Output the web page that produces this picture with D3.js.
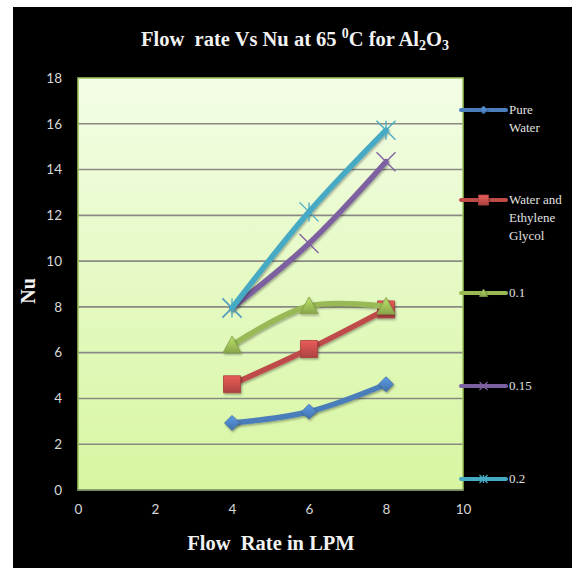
<!DOCTYPE html>
<html>
<head>
<meta charset="utf-8">
<script src="https://cdn.jsdelivr.net/npm/d3@7"></script>
<style>
  html, body { margin: 0; padding: 0; background: #fff; }
  svg { display: block; }
  text { white-space: pre; }
</style>
</head>
<body>
<svg id="chart" width="572" height="568"></svg>
<script>
// Flow rate (LPM) against Nusselt number for each fluid
const flowRates = [4, 6, 8];
const seriesNames = [["Pure", "Water"], ["Water and", "Ethylene", "Glycol"], ["0.1"], ["0.15"], ["0.2"]];
const pureWater = [2.93, 3.42, 4.62];
const waterEG = [4.62, 6.16, 7.89];
const conc010 = [6.33, 8.04, 8.02];
const conc015 = [7.95, 10.77, 14.34];
const conc020 = [7.95, 12.15, 15.72];
const xTicks = [0, 2, 4, 6, 8, 10];
const yTicks = [0, 2, 4, 6, 8, 10, 12, 14, 16, 18];
const legendY = [110, 200, 293, 386, 479];

const colors = ["#4a7ebb", "#be4b48", "#98b954", "#7d60a0", "#46aac5"];
const markers = ["diamond", "square", "triangle", "cross", "star"];
const values = [pureWater, waterEG, conc010, conc015, conc020];

const svg = d3.select("#chart");
const defs = svg.append("defs");

// background panel
svg.append("rect").attr("x", 13).attr("y", 7).attr("width", 559).attr("height", 561).attr("fill", "#000");

const plot = { left: 78, right: 463, top: 78, bottom: 490 };
const x = d3.scaleLinear().domain([0, 10]).range([plot.left, plot.right]);
const y = d3.scaleLinear().domain([0, 18]).range([plot.bottom, plot.top]);

const bg = defs.append("linearGradient").attr("id", "plotBg").attr("x1", 0).attr("y1", 0).attr("x2", 0).attr("y2", 1);
bg.append("stop").attr("offset", 0).attr("stop-color", "#f3fde6");
bg.append("stop").attr("offset", 1).attr("stop-color", "#d7f6a1");

svg.append("rect")
  .attr("x", plot.left).attr("y", plot.top)
  .attr("width", plot.right - plot.left).attr("height", plot.bottom - plot.top)
  .attr("fill", "url(#plotBg)");

// horizontal gridlines
svg.append("g").selectAll("line").data(yTicks.filter(d => d > 0 && d < 18)).join("line")
  .attr("x1", plot.left).attr("x2", plot.right)
  .attr("y1", d => y(d)).attr("y2", d => y(d))
  .attr("stroke", "#8a8a85").attr("stroke-width", 1.6);

svg.append("rect")
  .attr("x", plot.left).attr("y", plot.top)
  .attr("width", plot.right - plot.left).attr("height", plot.bottom - plot.top)
  .attr("fill", "none").attr("stroke", "#9fc65c").attr("stroke-width", 1.5);
svg.append("line").attr("x1", plot.left).attr("x2", plot.right)
  .attr("y1", plot.bottom).attr("y2", plot.bottom).attr("stroke", "#7f8a70").attr("stroke-width", 1.5);

// axes
const tickFont = "Lato, 'Open Sans', sans-serif";
const yAxis = svg.append("g").attr("transform", `translate(${plot.left},0)`)
  .call(d3.axisLeft(y).tickValues(yTicks).tickSize(0).tickPadding(16));
const xAxis = svg.append("g").attr("transform", `translate(0,${plot.bottom})`)
  .call(d3.axisBottom(x).tickValues(xTicks).tickSize(0).tickPadding(14));
[yAxis, xAxis].forEach(g => {
  g.select(".domain").remove();
  g.selectAll("text").attr("fill", "#d8d8d8").attr("font-family", tickFont).attr("font-size", 13.5);
});

// gradient fills for markers
colors.forEach((c, i) => {
  const g = defs.append("linearGradient").attr("id", "mk" + i).attr("x1", 0).attr("y1", 0).attr("x2", 0).attr("y2", 1);
  g.append("stop").attr("offset", 0).attr("stop-color", d3.color(c).brighter(0.6));
  g.append("stop").attr("offset", 1).attr("stop-color", d3.color(c).darker(0.3));
});
const shadow = defs.append("filter").attr("id", "shadow").attr("x", "-50%").attr("y", "-50%").attr("width", "200%").attr("height", "200%");
shadow.append("feDropShadow").attr("dx", 1).attr("dy", 1.5).attr("stdDeviation", 1.2).attr("flood-color", "#000").attr("flood-opacity", 0.35);

function markerPath(type, s) {
  const h = s / 2;
  switch (type) {
    case "diamond": return `M0,${-h}L${h},0L0,${h}L${-h},0Z`;
    case "square": return `M${-h},${-h}H${h}V${h}H${-h}Z`;
    case "triangle": return `M0,${-h}L${h},${h * 0.85}L${-h},${h * 0.85}Z`;
    case "cross": return `M${-h},${-h}L${h},${h}M${h},${-h}L${-h},${h}`;
    case "star": return `M${-h},${-h}L${h},${h}M${h},${-h}L${-h},${h}M0,${-h}V${h}`;
  }
}
function drawMarker(g, type, i, cx, cy, s) {
  const filled = type === "diamond" || type === "square" || type === "triangle";
  g.append("path")
    .attr("transform", `translate(${cx},${cy})`)
    .attr("d", markerPath(type, s))
    .attr("fill", filled ? `url(#mk${i})` : "none")
    .attr("stroke", filled ? d3.color(colors[i]).darker(0.4) : colors[i])
    .attr("stroke-width", filled ? 0.8 : 1.3)
    .attr("filter", filled ? "url(#shadow)" : null);
}

const line = d3.line().x((d, j) => x(flowRates[j])).y(d => y(d)).curve(d3.curveCatmullRom.alpha(0.5));
const sizes = { diamond: 15, square: 17, triangle: 18, cross: 19, star: 19 };

values.forEach((vals, i) => {
  const g = svg.append("g");
  g.append("path").datum(vals).attr("d", line)
    .attr("fill", "none").attr("stroke", colors[i]).attr("stroke-width", 5.5)
    .attr("stroke-linecap", "round").attr("filter", "url(#shadow)");
  vals.forEach((v, j) => drawMarker(g, markers[i], i, x(flowRates[j]), y(v), sizes[markers[i]]));
});

// legend
const legend = svg.append("g");
seriesNames.forEach((name, i) => {
  const ly = legendY[i];
  legend.append("line").attr("x1", 461).attr("x2", 506).attr("y1", ly).attr("y2", ly)
    .attr("stroke", colors[i]).attr("stroke-width", 4).attr("stroke-linecap", "round");
  drawMarker(legend, markers[i], i, 483.5, ly, markers[i] === "square" ? 10 : 8);
  const t = legend.append("text").attr("x", 509).attr("y", ly + 4)
    .attr("fill", "#e0e0e0").attr("font-family", "'Liberation Serif', 'Times New Roman', serif").attr("font-size", 13);
  name.forEach((ln, k) => t.append("tspan").attr("x", 509).attr("dy", k === 0 ? 0 : 18).text(ln));
});

// titles
const serif = "'Liberation Serif', 'Times New Roman', serif";
const title = svg.append("text").attr("x", 295).attr("y", 46).attr("text-anchor", "middle")
  .attr("fill", "#f2f2f2").attr("font-family", serif).attr("font-weight", "bold").attr("font-size", 20.5);
title.append("tspan").text("Flow  rate Vs Nu at 65 ");
title.append("tspan").attr("dy", -8).attr("font-size", 14).text("0");
title.append("tspan").attr("dy", 8).text("C for Al");
title.append("tspan").attr("dy", 4).attr("font-size", 14).text("2");
title.append("tspan").attr("dy", -4).text("O");
title.append("tspan").attr("dy", 4).attr("font-size", 14).text("3");

svg.append("text").attr("x", 271).attr("y", 550).attr("text-anchor", "middle")
  .attr("fill", "#f2f2f2").attr("font-family", serif).attr("font-weight", "bold").attr("font-size", 20.5)
  .text("Flow  Rate in LPM");

svg.append("text").attr("transform", "translate(35,291) rotate(-90)").attr("text-anchor", "middle")
  .attr("fill", "#f2f2f2").attr("font-family", serif).attr("font-weight", "bold").attr("font-size", 20)
  .text("Nu");
</script>
</body>
</html>
